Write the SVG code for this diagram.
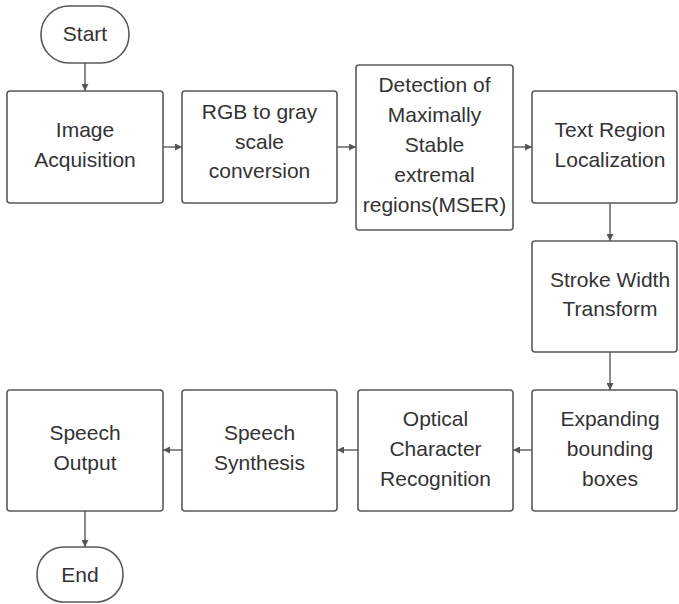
<svg xmlns="http://www.w3.org/2000/svg" width="679" height="604" viewBox="0 0 679 604">
  <defs>
    <marker id="arrow" viewBox="0 0 10 10" refX="10" refY="5" markerWidth="7" markerHeight="7" markerUnits="userSpaceOnUse" orient="auto">
      <path d="M0,0 L10,5 L0,10 Z" fill="#555"/>
    </marker>
    <style>
      .box { fill: #fff; stroke: #5a5a5a; stroke-width: 1.6; }
      .lbl { font-family: "Liberation Sans", Arial, sans-serif; font-size: 21px; fill: #333; text-anchor: middle; }
      .conn { fill: none; stroke: #5a5a5a; stroke-width: 1.4; marker-end: url(#arrow); }
    </style>
  </defs>
  <rect width="679" height="604" fill="#fff"/>

  <g id="connectors">
    <line class="conn" x1="85" y1="63" x2="85" y2="91"/>
    <line class="conn" x1="163" y1="147" x2="182" y2="147"/>
    <line class="conn" x1="337" y1="147" x2="356" y2="147"/>
    <line class="conn" x1="513" y1="147" x2="532" y2="147"/>
    <line class="conn" x1="610" y1="203" x2="610" y2="241"/>
    <line class="conn" x1="610" y1="352" x2="610" y2="390"/>
    <line class="conn" x1="532" y1="450" x2="513" y2="450"/>
    <line class="conn" x1="358" y1="450" x2="337" y2="450"/>
    <line class="conn" x1="182" y1="450" x2="163" y2="450"/>
    <line class="conn" x1="85" y1="511" x2="85" y2="547"/>
  </g>

  <g id="start">
    <rect class="box" x="41" y="6" width="88" height="57" rx="28" ry="28"/>
    <text class="lbl" x="85" y="41">Start</text>
  </g>

  <g id="image-acquisition">
    <rect class="box" x="7" y="91" width="156" height="112" rx="3"/>
    <text class="lbl" x="85" y="137">Image</text>
    <text class="lbl" x="85" y="167">Acquisition</text>
  </g>

  <g id="rgb-to-gray">
    <rect class="box" x="182" y="91" width="155" height="112" rx="3"/>
    <text class="lbl" x="259.5" y="119">RGB to gray</text>
    <text class="lbl" x="259.5" y="149">scale</text>
    <text class="lbl" x="259.5" y="178">conversion</text>
  </g>

  <g id="mser-detection">
    <rect class="box" x="356" y="65" width="157" height="165" rx="3"/>
    <text class="lbl" x="434.5" y="92">Detection of</text>
    <text class="lbl" x="434.5" y="122">Maximally</text>
    <text class="lbl" x="434.5" y="152">Stable</text>
    <text class="lbl" x="434.5" y="182">extremal</text>
    <text class="lbl" x="434.5" y="212">regions(MSER)</text>
  </g>

  <g id="text-region">
    <rect class="box" x="532" y="91" width="145" height="112" rx="3"/>
    <text class="lbl" x="610" y="137">Text Region</text>
    <text class="lbl" x="610" y="167">Localization</text>
  </g>

  <g id="stroke-width">
    <rect class="box" x="532" y="241" width="145" height="111" rx="3"/>
    <text class="lbl" x="610" y="287">Stroke Width</text>
    <text class="lbl" x="610" y="316">Transform</text>
  </g>

  <g id="expanding-boxes">
    <rect class="box" x="532" y="390" width="145" height="121" rx="3"/>
    <text class="lbl" x="610" y="426">Expanding</text>
    <text class="lbl" x="610" y="456">bounding</text>
    <text class="lbl" x="610" y="486">boxes</text>
  </g>

  <g id="ocr">
    <rect class="box" x="358" y="390" width="155" height="121" rx="3"/>
    <text class="lbl" x="435.5" y="426">Optical</text>
    <text class="lbl" x="435.5" y="456">Character</text>
    <text class="lbl" x="435.5" y="486">Recognition</text>
  </g>

  <g id="speech-synthesis">
    <rect class="box" x="182" y="390" width="155" height="121" rx="3"/>
    <text class="lbl" x="259.5" y="440">Speech</text>
    <text class="lbl" x="259.5" y="470">Synthesis</text>
  </g>

  <g id="speech-output">
    <rect class="box" x="7" y="390" width="156" height="121" rx="3"/>
    <text class="lbl" x="85" y="440">Speech</text>
    <text class="lbl" x="85" y="470">Output</text>
  </g>

  <g id="end">
    <rect class="box" x="37" y="547" width="86" height="55" rx="27" ry="27"/>
    <text class="lbl" x="80" y="582">End</text>
  </g>
</svg>
